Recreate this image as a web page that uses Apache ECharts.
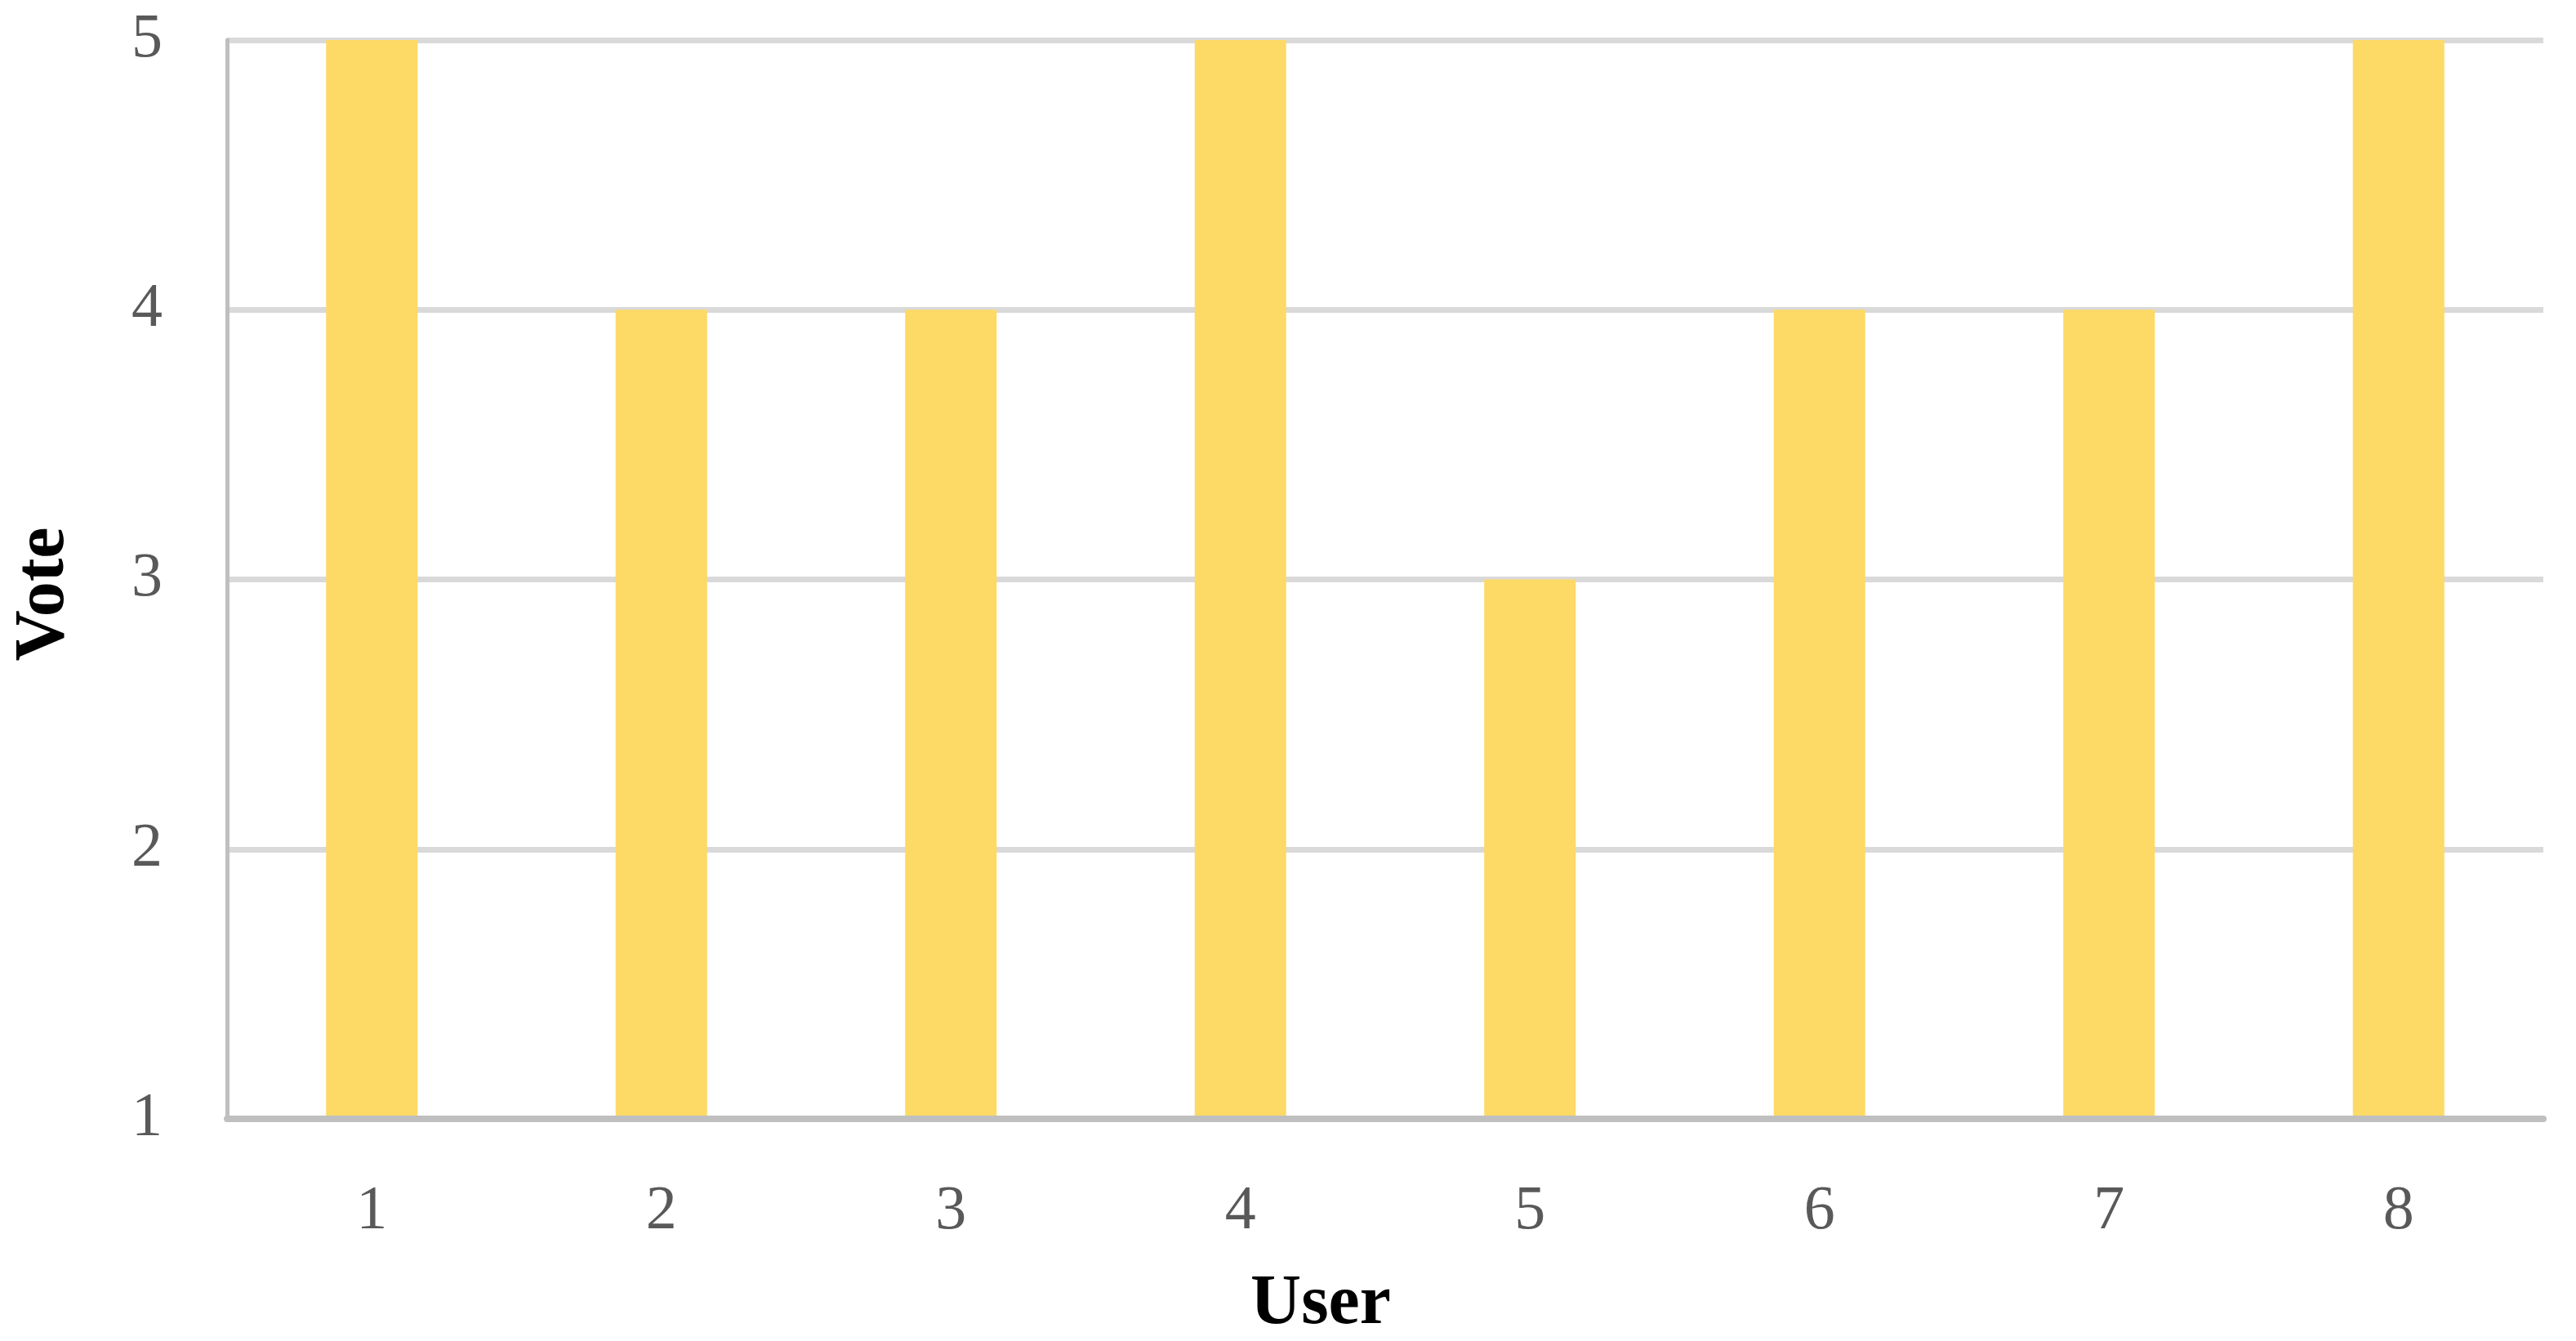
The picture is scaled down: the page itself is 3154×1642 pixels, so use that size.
<!DOCTYPE html>
<html>
<head>
<meta charset="utf-8">
<script src="https://cdn.jsdelivr.net/npm/echarts@6/dist/echarts.min.js"></script>
<style>
html,body{margin:0;padding:0;background:#fff;}
#chart{width:3154px;height:1642px;}
</style>
</head>
<body>
<div id="chart"></div>
<script>
const users = ['1', '2', '3', '4', '5', '6', '7', '8'];
const votes = [5, 4, 4, 5, 3, 4, 4, 5];
const xTitle = 'User';
const yTitle = 'Vote';

const chart = echarts.init(document.getElementById('chart'), null, {renderer: 'canvas'});
const fontFam = '"Liberation Serif", "DejaVu Serif", serif';
chart.setOption({
  animation: false,
  backgroundColor: '#ffffff',
  grid: {left: 278, right: 40, top: 49, bottom: 272, containLabel: false, outerBoundsMode: 'none'},
  xAxis: {
    type: 'category',
    data: users,
    z: 10,
    name: xTitle,
    nameLocation: 'middle',
    nameGap: 185,
    nameTextStyle: {fontFamily: fontFam, fontWeight: 'bold', fontSize: 86, color: '#000000', padding: [0, 158, 0, 0]},
    axisLine: {show: true, lineStyle: {color: '#BFBFBF', width: 8}},
    axisTick: {show: false},
    axisLabel: {fontFamily: fontFam, fontSize: 76, color: '#595959', margin: 76},
    splitLine: {show: false}
  },
  yAxis: {
    type: 'value',
    min: 1,
    max: 5,
    interval: 1,
    name: yTitle,
    nameLocation: 'middle',
    nameRotate: 90,
    nameGap: 180,
    nameTextStyle: {fontFamily: fontFam, fontWeight: 'bold', fontSize: 86, color: '#000000', padding: [0, 36, 0, 0]},
    axisLine: {show: true, lineStyle: {color: '#BFBFBF', width: 5}},
    axisTick: {show: false},
    axisLabel: {fontFamily: fontFam, fontSize: 76, color: '#595959', margin: 79},
    splitLine: {show: true, lineStyle: {color: '#D9D9D9', width: 7}}
  },
  series: [{
    type: 'bar',
    data: votes,
    barWidth: '31.6%',
    itemStyle: {color: '#FDD966'},
    clip: true
  }]
});
</script>
</body>
</html>
